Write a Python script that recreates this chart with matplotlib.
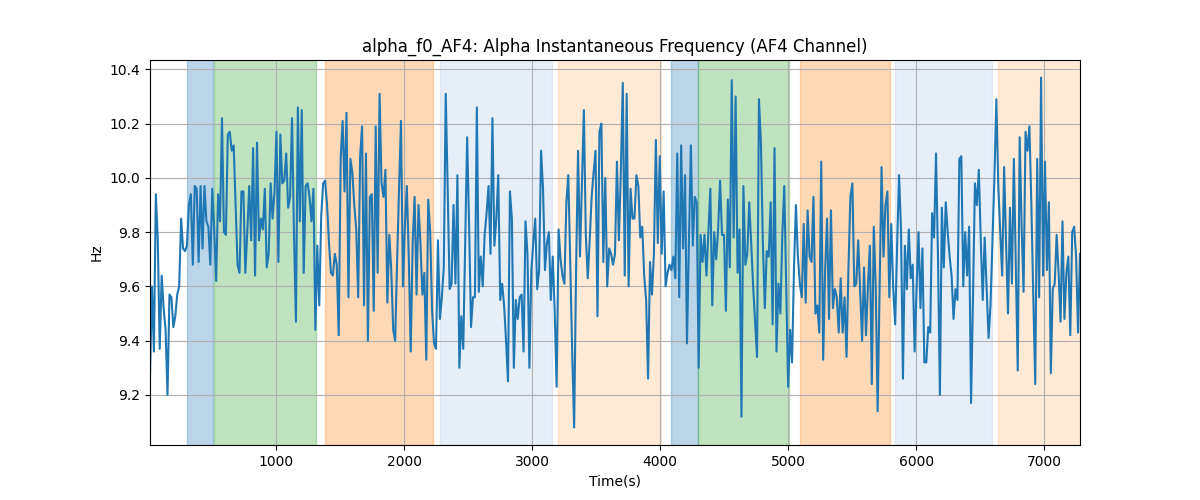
import numpy as np
import matplotlib
matplotlib.use("Agg")
import matplotlib.pyplot as plt

values = [
    # segment 1
    9.27, 9.60, 9.36, 9.94, 9.77, 9.37, 9.64, 9.52, 9.44, 9.20, 9.57, 9.56, 9.45, 9.49, 9.57, 9.60,
    9.85, 9.74, 9.73, 9.75, 9.90, 9.94, 9.68, 9.97, 9.96, 9.69, 9.97, 9.74, 9.97, 9.84, 9.82, 9.68,
    9.96, 9.81, 9.62, 9.94, 9.84, 10.22, 9.80, 9.79, 10.16, 10.17, 10.10, 10.12, 9.90, 9.68, 9.65,
    9.95, 9.95, 9.65, 9.80, 9.97, 9.77, 10.11, 9.64, 10.13, 9.77, 9.85, 9.81, 9.96, 9.67,
    # segment 2
    9.72, 9.98, 9.85, 9.95, 10.17, 9.69, 10.16, 9.98, 9.99, 10.09, 9.89, 9.93, 10.22, 9.80, 9.47,
    10.26, 9.84, 10.25, 9.65, 9.97, 9.98, 9.93, 9.84, 9.96, 9.44, 9.75, 9.53, 9.86, 9.98, 9.99,
    9.90, 9.76, 9.65, 9.64, 9.72, 9.68, 9.42, 10.07, 10.21, 9.95, 10.24, 9.56, 10.07, 10.02, 9.90,
    9.81, 9.56, 10.08, 10.19, 9.53, 10.09, 9.40, 9.93, 9.94, 9.51, 10.19, 9.65, 10.31, 9.98, 9.93,
    10.03, 9.54,
    # segment 3
    9.79, 9.66, 9.44, 9.40, 9.69, 9.96, 10.21, 9.60, 9.82, 9.97, 9.71, 9.36, 9.76, 9.93, 9.57,
    9.90, 9.76, 9.57, 9.65, 9.33, 9.92, 9.80, 9.51, 9.39, 9.37, 9.77, 9.48, 9.56, 9.67, 10.31,
    9.96, 9.59, 9.61, 9.90, 9.61, 10.01, 9.30, 9.49, 9.37, 9.76, 10.15, 9.83, 9.45, 9.56, 9.56,
    10.26, 9.58, 9.71, 9.60, 9.79, 9.87, 9.97, 9.72, 10.22, 9.75, 9.85, 10.01, 9.55, 9.61, 9.53,
    9.40, 9.25,
    # segment 4
    9.95, 9.85, 9.30, 9.55, 9.48, 9.56, 9.57, 9.36, 9.84, 9.72, 9.30, 9.66, 9.76, 9.85, 9.59,
    9.66, 10.10, 9.96, 9.66, 9.76, 9.80, 9.55, 9.71, 9.51, 9.23, 9.81, 9.70, 9.64, 9.61, 9.91,
    10.01, 9.69, 9.36, 9.08, 9.66, 10.10, 9.71, 9.98, 10.25, 9.79, 9.63, 9.77, 9.93, 10.02,
    10.10, 9.49, 10.17, 10.20, 9.69, 10.00, 9.60, 9.74, 9.72, 9.68, 9.72, 10.06, 9.77, 10.02,
    10.35, 9.64, 10.31, 9.60, 9.96,
    # segment 5
    9.85, 9.85, 10.01, 9.97, 9.78, 9.82, 9.64, 9.55, 9.26, 9.69, 9.57, 9.72, 10.14, 9.76, 10.08,
    9.72, 9.95, 9.60, 9.65, 9.68, 9.66, 9.71, 9.63, 10.09, 9.56, 10.12, 9.74, 10.01, 9.39, 9.77,
    10.12, 9.75, 9.93, 9.91, 9.30, 9.79, 9.69, 9.79, 9.64, 9.80, 9.96, 9.53, 9.80, 9.70, 9.81,
    9.99, 9.79, 9.79, 9.51, 9.92, 9.67, 10.36, 9.78, 10.30, 9.65, 9.81, 9.12, 9.97, 9.68, 9.72,
    # segment 6
    9.91, 9.76, 9.60, 9.47, 9.34, 10.29, 10.13, 9.76, 9.52, 9.73, 9.71, 9.91, 9.46, 10.11, 9.36,
    9.61, 9.50, 9.79, 9.97, 9.59, 9.23, 9.44, 9.32, 9.67, 9.90, 9.71, 9.61, 9.56, 9.83, 9.54,
    9.88, 9.71, 9.69, 9.93, 9.50, 9.53, 9.43, 10.06, 9.33, 9.66, 9.85, 9.48, 9.88, 9.52, 9.59,
    9.56, 9.43, 9.63, 9.43, 9.56, 9.34, 9.67, 9.93, 9.98, 9.60, 9.61, 9.77, 9.59, 9.40, 9.67, 9.42,
    # segment 7
    9.60, 9.75, 9.24, 9.82, 9.60, 9.14, 9.59, 10.04, 9.71, 9.90, 9.95, 9.56, 9.83, 9.59, 9.46,
    9.75, 10.01, 9.81, 9.26, 9.75, 9.59, 9.81, 9.63, 9.68, 9.36, 9.59, 9.80, 9.52, 9.74, 9.32,
    9.32, 9.45, 9.43, 9.87, 9.78, 10.09, 9.71, 9.20, 9.89, 9.67, 9.91, 9.80, 9.71, 9.64, 9.48,
    9.59, 9.55, 10.07, 10.08, 9.60, 9.80, 9.64, 9.82, 9.17, 9.56, 9.98, 9.90, 10.03, 9.77, 9.55,
    9.78, 9.59, 9.41,
    # segment 8
    9.53, 9.76, 10.00, 10.29, 9.97, 9.80, 9.64, 10.04, 9.76, 9.50, 9.89, 9.61, 10.07, 9.69, 9.29,
    10.15, 9.82, 9.58, 10.17, 10.10, 10.19, 9.90, 9.56, 9.24, 10.07, 9.56, 10.37, 9.64, 10.06,
    9.66, 9.91, 9.28, 9.59, 9.61, 9.79, 9.65, 9.47, 9.84, 9.48, 9.65, 9.71, 9.42, 9.80, 9.82,
    9.71, 9.43, 9.72,
]

t_start, t_end = 16, 7280
time = np.linspace(t_start, t_end, len(values))

span_starts = [305, 516, 1383, 2281, 3206, 4086, 4299, 5094, 5836, 6638]
span_ends = [510, 1312, 2224, 3154, 4008, 4294, 5010, 5797, 6591, 7300]
span_colors = ["#1f77b4", "#2ca02c", "#ff7f0e", "#aec7e8", "#ffbb78",
               "#1f77b4", "#2ca02c", "#ff7f0e", "#aec7e8", "#ffbb78"]

fig, ax = plt.subplots(figsize=(12, 5), dpi=100)
for s, e, c in zip(span_starts, span_ends, span_colors):
    ax.axvspan(s, e, color=c, alpha=0.3)
ax.plot(time, values, color="#1f77b4", linewidth=1.5)
ax.set_xlim(time[0], time[-1])
ax.set_title("alpha_f0_AF4: Alpha Instantaneous Frequency (AF4 Channel)")
ax.set_xlabel("Time(s)")
ax.set_ylabel("Hz")
ax.grid(True)
fig.savefig("out.png")
